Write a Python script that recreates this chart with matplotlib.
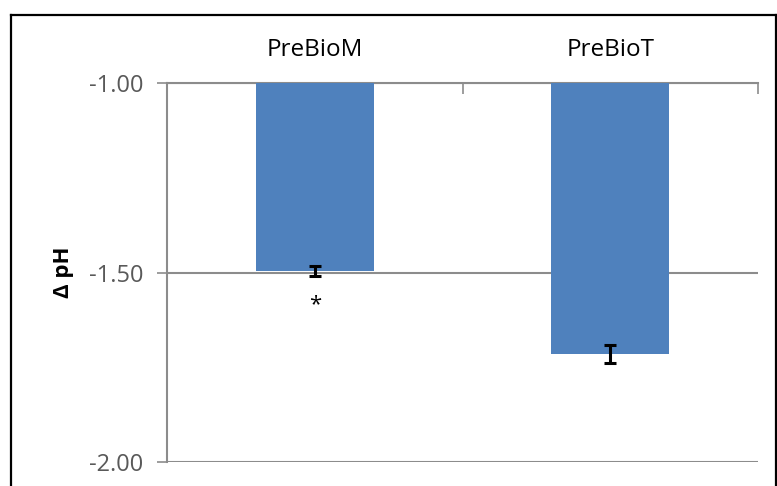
import matplotlib.pyplot as plt
from matplotlib.lines import Line2D

groups = ['PreBioM', 'PreBioT']
delta_ph = [-1.495, -1.715]
err = [0.013, 0.024]
marks = ['*', '']
yticks = [-2.00, -1.50, -1.00]

bar_color = '#4F81BD'
grid_color = '#8C8C8C'
font = ['Open Sans', 'DejaVu Sans']
plt.rcParams['font.family'] = font

fig = plt.figure(figsize=(7.77, 4.86), dpi=100)
ax = fig.add_axes([167 / 777, 1 - 462 / 486, 591 / 777, 379 / 486])

x = range(len(groups))
base = -1.0
heights = [v - base for v in delta_ph]
ax.bar(x, heights, bottom=base, width=0.4, color=bar_color, zorder=3)
ax.errorbar(x, delta_ph, yerr=err, fmt='none', ecolor='black',
            elinewidth=2.2, capsize=4.5, capthick=2.2, zorder=4)
for i, m in enumerate(marks):
    if m:
        ax.text(i, delta_ph[i] - 0.09, m, ha='center', va='center', fontsize=16)

ax.set_xlim(-0.5, len(groups) - 0.5)
ax.set_ylim(-2.0, -1.0)
ax.set_yticks(yticks)
ax.set_yticklabels([f'{t:.2f}' for t in yticks], color='#595959', fontsize=17)
ax.yaxis.grid(True, color=grid_color, linewidth=1.5, zorder=0)
ax.tick_params(axis='y', length=7, color=grid_color, width=1.2, pad=10)

# category axis on top, ticks between categories pointing down
ax.xaxis.tick_top()
ax.set_xticks([-0.5, 0.5, 1.5], minor=True)
ax.set_xticks(list(x))
ax.set_xticklabels(groups, fontsize=17.5, color='black')
ax.tick_params(axis='x', which='major', length=0, pad=15)
ax.tick_params(axis='x', which='minor', direction='in', length=8, color=grid_color, width=1.2, top=True, bottom=False)

for s in ['right', 'bottom']:
    ax.spines[s].set_visible(False)
ax.spines['left'].set_color(grid_color)
ax.spines['left'].set_linewidth(1.5)
ax.spines['top'].set_color(grid_color)
ax.spines['top'].set_linewidth(1.5)

ax.set_ylabel('Δ pH', fontsize=16, fontweight='bold', labelpad=11)

# outer chart border
W, H = 777, 486
bx0, by0, bx1 = 10.5 / W, 1 - 15 / H, 775.5 / W
for xs, ys in [([bx0, bx0], [0, by0]), ([bx0, bx1], [by0, by0]), ([bx1, bx1], [by0, 0])]:
    fig.add_artist(Line2D(xs, ys, color='black', linewidth=1.6))

fig.savefig('out.png', dpi=100)
